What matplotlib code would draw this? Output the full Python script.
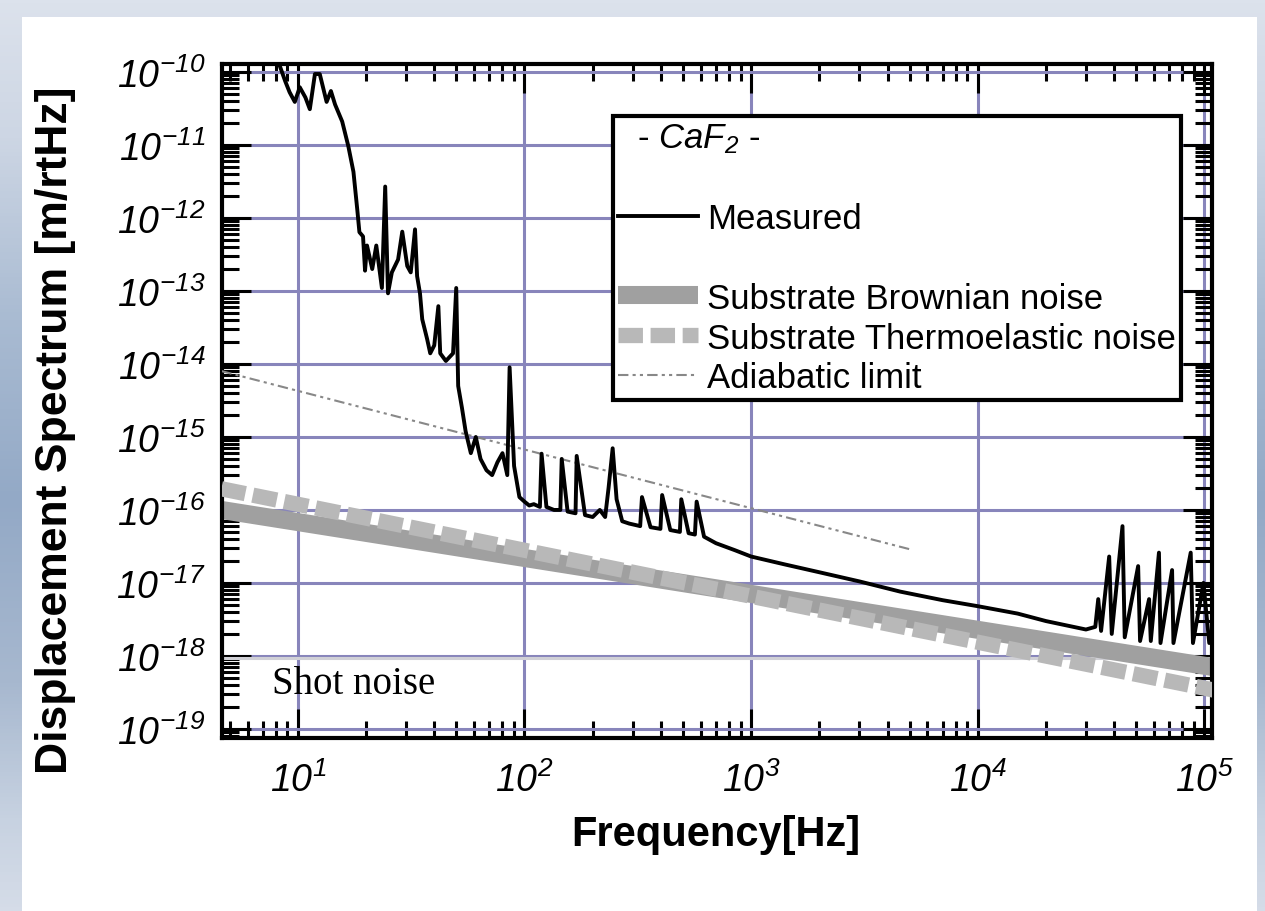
import numpy as np
import matplotlib
matplotlib.use('Agg')
from matplotlib import pyplot as plt
from matplotlib.lines import Line2D
from matplotlib.patches import Rectangle
from matplotlib.colors import LinearSegmentedColormap
from matplotlib.ticker import LogLocator, NullFormatter

plt.rcParams['font.family'] = ['Liberation Sans', 'DejaVu Sans']
plt.rcParams['mathtext.fontset'] = 'custom'
plt.rcParams['mathtext.rm'] = 'Liberation Sans:italic'
plt.rcParams['mathtext.it'] = 'Liberation Sans:italic'

# measured spectrum [Hz], [m/rtHz]
meas_freq = [8.3, 8.8, 9.2, 9.7, 10.2, 10.8, 11.3, 11.9, 12.5, 13.4, 14.0, 14.6,
             15.7, 16.7, 17.6, 18.3, 18.7, 19.4, 19.8, 20.2, 21.3, 22.2, 23.5,
             24.3, 25.0, 26.0, 27.7, 28.9, 30.4, 31.5, 32.9, 33.6, 34.6, 35.4,
             37.2, 38.4, 40.0, 41.7, 42.5, 45.0, 48.4, 50.0, 51.0, 53.0, 55.0,
             58.0, 61.0, 64.0, 68.0, 72.0, 76.0, 80.0, 84.0, 86.0, 90.0, 95.0,
             100, 105, 110, 117, 119, 125, 135, 144, 146, 155, 168, 170, 185,
             200, 215, 227, 235, 245, 255, 270, 290, 310, 324, 330, 360, 398,
             405, 440, 485, 492, 530, 565, 575, 620, 700, 850, 1000, 1400, 2000,
             3000, 4550, 7000, 1.0e4, 1.5e4, 2.0e4, 3.0e4, 3.3e4, 3.4e4, 3.5e4,
             3.8e4, 3.9e4, 4.35e4, 4.45e4, 5.1e4, 5.2e4, 5.7e4, 5.8e4, 6.3e4,
             6.4e4, 7.2e4, 7.3e4, 8.7e4, 8.9e4, 9.9e4, 1.05e5, 1.1e5]
meas_amp = [1.25e-10, 7.5e-11, 5.3e-11, 3.9e-11, 6.2e-11, 4.5e-11, 3.1e-11,
            9.4e-11, 9.4e-11, 3.9e-11, 5.5e-11, 3.6e-11, 2.1e-11, 9.7e-12,
            4.3e-12, 1.3e-12, 6.4e-13, 5.6e-13, 1.9e-13, 4.2e-13, 2.0e-13,
            4.2e-13, 1.1e-13, 2.7e-12, 9.3e-14, 1.8e-13, 2.7e-13, 6.5e-13,
            2.2e-13, 1.8e-13, 7.0e-13, 1.6e-13, 9.3e-14, 4.1e-14, 2.2e-14,
            1.4e-14, 1.8e-14, 6.2e-14, 1.4e-14, 1.1e-14, 1.4e-14, 1.1e-13,
            5.0e-15, 2.5e-15, 1.2e-15, 6.0e-16, 1.0e-15, 5.0e-16, 3.5e-16,
            3.0e-16, 4.5e-16, 6.0e-16, 3.0e-16, 9.0e-15, 4.0e-16, 1.5e-16,
            1.3e-16, 1.15e-16, 1.2e-16, 1.1e-16, 5.9e-16, 1.1e-16, 1.0e-16,
            1.0e-16, 5.0e-16, 9.5e-17, 9.0e-17, 5.5e-16, 8.5e-17, 8.0e-17,
            1.0e-16, 8.0e-17, 2.0e-16, 7.0e-16, 1.4e-16, 7.0e-17, 6.5e-17,
            6.2e-17, 6.0e-17, 1.5e-16, 5.8e-17, 5.5e-17, 1.6e-16, 5.3e-17,
            5.0e-17, 1.4e-16, 4.8e-17, 4.6e-17, 1.3e-16, 4.3e-17, 3.5e-17,
            2.8e-17, 2.3e-17, 1.8e-17, 1.4e-17, 1.05e-17, 7.6e-18, 5.8e-18,
            4.8e-18, 3.8e-18, 3.0e-18, 2.3e-18, 2.5e-18, 6.0e-18, 2.2e-18,
            2.3e-17, 2.0e-18, 6.0e-17, 1.8e-18, 1.7e-17, 1.6e-18, 6.0e-18,
            1.6e-18, 2.6e-17, 1.5e-18, 1.5e-17, 1.5e-18, 2.6e-17, 1.5e-18,
            1.0e-17, 1.5e-18, 2.0e-18]

# model curves (straight on log-log), end points
model_freq = [4.6, 1.1e5]
brownian_amp = [1.0e-16, 7.0e-19]
thermo_amp = [1.95e-16, 3.4e-19]

adiabatic_freq = [4.6, 5.0e3]
adiabatic_amp = [8.0e-15, 2.9e-17]

shot_noise = 9.5e-19

xticks = [1e1, 1e2, 1e3, 1e4, 1e5]
xtick_labels = ['$10^{1}$', '$10^{2}$', '$10^{3}$', '$10^{4}$', '$10^{5}$']
yticks = [1e-10, 1e-11, 1e-12, 1e-13, 1e-14, 1e-15, 1e-16, 1e-17, 1e-18, 1e-19]
ytick_labels = ['$10^{-10}$', '$10^{-11}$', '$10^{-12}$', '$10^{-13}$', '$10^{-14}$',
                '$10^{-15}$', '$10^{-16}$', '$10^{-17}$', '$10^{-18}$', '$10^{-19}$']

W, H = 1265, 912
fig = plt.figure(figsize=(W / 100, H / 100), dpi=100)

# slide background: bluish strip on the left/top, white page
bg = fig.add_axes([0, 0, 1, 1], zorder=-10)
bg.set_axis_off()
strip = LinearSegmentedColormap.from_list('strip', [
    (0.0, '#dce2ec'), (0.15, '#cdd6e4'), (0.35, '#a9bbd2'), (0.55, '#93a9c6'),
    (0.75, '#a7b8cf'), (0.9, '#c7d2e1'), (1.0, '#d5dce8')])
bg.imshow(np.linspace(0, 1, 256).reshape(-1, 1), cmap=strip, aspect='auto',
          extent=[0, 1, 0, 1])
bg.add_patch(Rectangle((22 / W, 0), (1257 - 22) / W, 1 - 18 / H,
                       facecolor='white', edgecolor='none'))
bg.set_xlim(0, 1)
bg.set_ylim(0, 1)

ax = fig.add_axes([222 / W, 1 - 739 / H, 990 / W, 674 / H])
ax.set_xscale('log')
ax.set_yscale('log')
ax.set_xlim(4.63, 1.08e5)
ax.set_ylim(7.5e-20, 1.29e-10)
ax.set_axisbelow(True)
ax.grid(True, which='major', color='#8885bb', lw=2.2)
ax.grid(False, which='minor')

ax.axhline(shot_noise, color='#d0d0d6', lw=2.2, zorder=1)
ax.text(7.7, 4.2e-19, 'Shot noise', family='Liberation Serif', fontsize=28,
        va='center', ha='left')

brown, = ax.plot(model_freq, brownian_amp, color='#a0a0a0', lw=13,
                 solid_capstyle='butt', zorder=2, label='Substrate Brownian noise')
thermo, = ax.plot(model_freq, thermo_amp, color='#b8b8b8', lw=11,
                  dashes=(1.6, 0.5), dash_capstyle='butt', zorder=3,
                  label='Substrate Thermoelastic noise')
adia, = ax.plot(adiabatic_freq, adiabatic_amp, color='#888888', lw=1.5,
                dashes=(5, 2, 1.5, 2, 1.5, 2), zorder=4, label='Adiabatic limit')
meas, = ax.plot(meas_freq, meas_amp, color='black', lw=2.8, zorder=5,
                label='Measured')

ax.set_xticks(xticks)
ax.set_xticklabels(xtick_labels)
ax.set_yticks(yticks)
ax.set_yticklabels(ytick_labels)
ax.xaxis.set_minor_locator(LogLocator(base=10, subs=np.arange(2, 10), numticks=100))
ax.yaxis.set_minor_locator(LogLocator(base=10, subs=np.arange(2, 10), numticks=100))
ax.xaxis.set_minor_formatter(NullFormatter())
ax.yaxis.set_minor_formatter(NullFormatter())
ax.tick_params(which='major', direction='in', length=21, width=2.2,
               top=True, right=True, labelsize=27)
ax.tick_params(which='minor', direction='in', length=12, width=2.2,
               top=True, right=True)
ax.tick_params(axis='y', pad=12)
ax.tick_params(axis='x', pad=17)
for sp in ax.spines.values():
    sp.set_linewidth(3)

ax.set_xlabel('Frequency[Hz]', fontsize=30, fontweight='bold', va='center')
ax.xaxis.set_label_coords(0.499, -0.142)
ax.set_ylabel('Displacement Spectrum [m/rtHz]', fontsize=32, fontweight='bold',
              va='center')
ax.yaxis.set_label_coords(-0.168, 0.458)

blank = Line2D([], [], color='none')
leg = ax.legend([blank, meas, blank, brown, thermo, adia],
                [' ', 'Measured', ' ', 'Substrate Brownian noise',
                 'Substrate Thermoelastic noise', 'Adiabatic limit'],
                title='  - $CaF_2$ -', title_fontsize=25, fontsize=25,
                loc='upper left', bbox_to_anchor=(0.395, 0.923),
                borderaxespad=0, fancybox=False, edgecolor='black',
                framealpha=1, handlelength=2.3, handletextpad=0.25,
                labelspacing=0.2, borderpad=0.15, alignment='left')
leg.get_frame().set_linewidth(3)

fig.savefig('out.png', dpi=100)
